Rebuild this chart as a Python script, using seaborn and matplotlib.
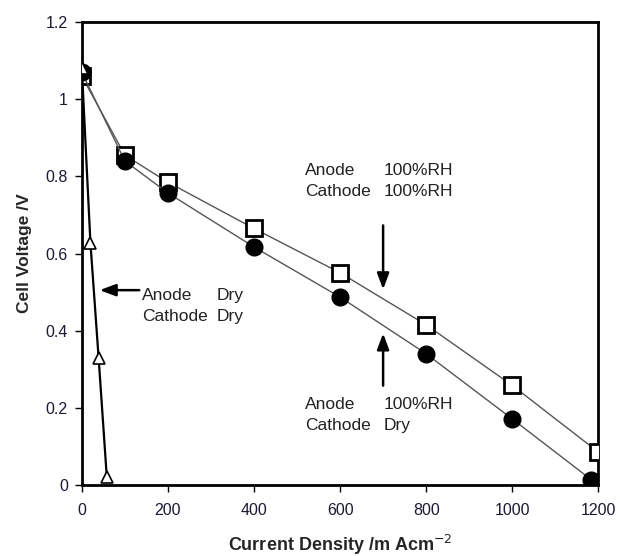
import matplotlib
matplotlib.use("Agg")
import matplotlib.pyplot as plt
import seaborn as sns

# Data
x_wet = [0, 100, 200, 400, 600, 800, 1000, 1200]
v_wet = [1.06, 0.855, 0.785, 0.665, 0.55, 0.415, 0.258, 0.085]
x_cdry = [0, 100, 200, 400, 600, 800, 1000, 1184]
v_cdry = [1.07, 0.84, 0.757, 0.617, 0.487, 0.34, 0.171, 0.013]
x_dry = [0, 20, 39, 58]
v_dry = [1.08, 0.627, 0.329, 0.02]
xticks = [0, 200, 400, 600, 800, 1000, 1200]
yticks = [0, 0.2, 0.4, 0.6, 0.8, 1.0, 1.2]
ytick_labels = ["0", "0.2", "0.4", "0.6", "0.8", "1", "1.2"]

sns.set_theme(style="white")
plt.rcParams['font.family'] = ['Liberation Sans', 'DejaVu Sans']

fig = plt.figure(figsize=(6.2, 5.56), dpi=100)
ax = fig.add_axes([0.132, 0.128, 0.833, 0.832])

sns.lineplot(x=x_wet, y=v_wet, ax=ax, color="#555555", lw=1.0, marker="s",
             markersize=11, markerfacecolor="white", markeredgecolor="black",
             markeredgewidth=2, zorder=3)
sns.lineplot(x=x_cdry, y=v_cdry, ax=ax, color="#555555", lw=1.0, marker="o",
             markersize=12, markerfacecolor="black", markeredgecolor="black",
             markeredgewidth=1, zorder=4)
sns.lineplot(x=x_dry, y=v_dry, ax=ax, color="black", lw=1.6, marker="^",
             markersize=9, markerfacecolor="white", markeredgecolor="black",
             markeredgewidth=1.2, zorder=5)

ax.set_xlim(0, 1200)
ax.set_ylim(0, 1.2)
ax.set_xticks(xticks)
ax.set_yticks(yticks)
ax.set_yticklabels(ytick_labels)
ax.tick_params(axis="both", direction="out", length=5, width=1, colors="black",
               labelsize=11.5, labelcolor="#1a1a33", bottom=True, left=True)
ax.tick_params(axis="x", pad=8)
ax.tick_params(axis="y", pad=5)
for s in ax.spines.values():
    s.set_color("black")
    s.set_linewidth(2)

ax.set_xlabel("Current Density /m Acm$^{-2}$", fontsize=13, fontweight="bold",
              labelpad=11)
ax.set_ylabel("Cell Voltage /V", fontsize=12.5, fontweight="bold", labelpad=10)

txt_kw = dict(fontsize=12.5, color="#222222", va="top", ha="left",
              linespacing=1.5)
ax.text(518, 0.835, "Anode\nCathode", **txt_kw)
ax.text(702, 0.835, "100%RH\n100%RH", **txt_kw)
ax.text(518, 0.228, "Anode\nCathode", **txt_kw)
ax.text(702, 0.228, "100%RH\nDry", **txt_kw)
ax.text(140, 0.51, "Anode\nCathode", **txt_kw)
ax.text(314, 0.51, "Dry\nDry", **txt_kw)

arrow = dict(arrowstyle="-|>,head_length=0.8,head_width=0.3", color="black", lw=1.8)
ax.annotate("", xy=(35, 0.505), xytext=(140, 0.505), arrowprops=arrow)
ax.annotate("", xy=(700, 0.50), xytext=(700, 0.68), arrowprops=arrow)
ax.annotate("", xy=(700, 0.40), xytext=(700, 0.25), arrowprops=arrow)

fig.savefig("out.png", dpi=100)
